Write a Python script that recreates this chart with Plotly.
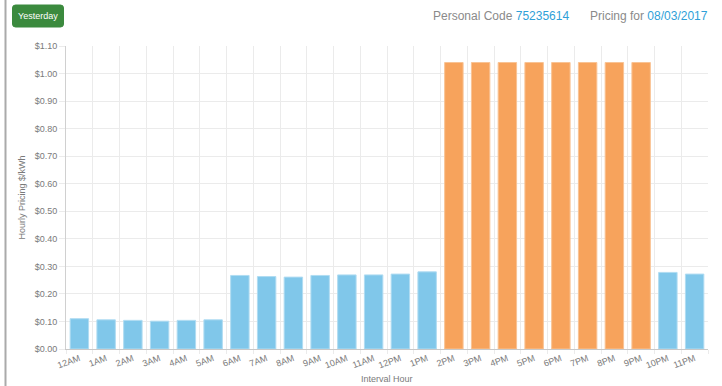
import plotly.graph_objects as go

hours = ["12AM", "1AM", "2AM", "3AM", "4AM", "5AM", "6AM", "7AM", "8AM", "9AM", "10AM", "11AM",
         "12PM", "1PM", "2PM", "3PM", "4PM", "5PM", "6PM", "7PM", "8PM", "9PM", "10PM", "11PM"]
prices = [0.110, 0.106, 0.104, 0.101, 0.104, 0.106, 0.267, 0.263, 0.261, 0.267, 0.269, 0.269,
          0.272, 0.280, 1.040, 1.040, 1.040, 1.040, 1.040, 1.040, 1.040, 1.040, 0.278, 0.272]
peak = [False] * 14 + [True] * 8 + [False] * 2
y_ticks = [0.0, 0.1, 0.2, 0.3, 0.4, 0.5, 0.6, 0.7, 0.8, 0.9, 1.0, 1.1]
y_tick_labels = ["$%.2f" % v for v in y_ticks]

personal_code = "75235614"
pricing_date = "08/03/2017"

BLUE = "#80c7ea"
BLUE_EDGE = "#b0dcf2"
ORANGE = "#f7a35c"
ORANGE_EDGE = "#f9c394"
GRID = "#ebebeb"
TXT = "#7a7a7a"

W, H = 722, 386
ML, MR, MT, MB = 66, 14, 46, 37
pw = W - ML - MR
ph = H - MT - MB


def px_x(px):
    return (px - ML) / pw


def px_y(py):
    return (H - MB - py) / ph


fig = go.Figure()
fig.add_trace(go.Bar(
    x=hours, y=prices,
    marker=dict(color=[ORANGE if p else BLUE for p in peak],
                line=dict(color=[ORANGE_EDGE if p else BLUE_EDGE for p in peak], width=1)),
    hoverinfo="x+y", showlegend=False,
))
# invisible trace to activate the overlay axis that draws grid lines between categories
fig.add_trace(go.Scatter(x=[-0.5, len(hours) - 0.5], y=[0, 0], xaxis="x2", mode="markers",
                         marker=dict(opacity=0), hoverinfo="skip", showlegend=False))

font_main = "Liberation Sans, Arial, sans-serif"

fig.update_layout(
    width=W, height=H,
    margin=dict(l=ML, r=MR, t=MT, b=MB),
    paper_bgcolor="white", plot_bgcolor="white",
    bargap=0.31,
    font=dict(family=font_main, size=9, color=TXT),
    xaxis=dict(
        type="category", range=[-0.5, len(hours) - 0.5], automargin=False,
        showgrid=False, tickangle=-20, ticks="", tickfont=dict(size=9, color=TXT),
        showline=True, linecolor="#c8c8c8", linewidth=1,
        fixedrange=True,
    ),
    xaxis2=dict(
        overlaying="x", side="bottom", range=[-0.5, len(hours) - 0.5], automargin=False,
        tickmode="linear", tick0=0.5, dtick=1,
        showgrid=True, gridcolor=GRID, gridwidth=1, zeroline=False,
        showticklabels=False, ticks="outside", ticklen=4, tickcolor=GRID,
        showline=False, fixedrange=True,
    ),
    yaxis=dict(
        range=[0, 1.1], tickmode="array", tickvals=y_ticks, ticktext=y_tick_labels,
        automargin=False,
        showgrid=True, gridcolor=GRID, gridwidth=1, zeroline=False,
        ticks="outside", ticklen=6, tickcolor=GRID,
        showline=True, linecolor="#d0d0d0", linewidth=1,
        tickfont=dict(size=9, color=TXT),
        fixedrange=True,
    ),
)

# axis titles
fig.add_annotation(xref="paper", yref="paper", x=0.5, y=px_y(379),
                   text="Interval Hour", showarrow=False, xanchor="center", yanchor="middle",
                   font=dict(size=9, color=TXT, family=font_main))
fig.add_annotation(xref="paper", yref="paper", x=px_x(21), y=0.5, textangle=-90,
                   text="Hourly Pricing $/kWh", showarrow=False, xanchor="center", yanchor="middle",
                   font=dict(size=9, color=TXT, family=font_main))

# left panel border
fig.add_shape(type="line", xref="paper", yref="paper",
              x0=px_x(5.5), x1=px_x(5.5), y0=px_y(0), y1=px_y(H),
              line=dict(color="#aaaaaa", width=2), layer="above")

# "Yesterday" button (rounded rect)
bx0, bx1, by0, by1, r = 12.5, 63.5, 5, 27, 3
path = (f"M {px_x(bx0 + r)},{px_y(by0)} L {px_x(bx1 - r)},{px_y(by0)} "
        f"Q {px_x(bx1)},{px_y(by0)} {px_x(bx1)},{px_y(by0 + r)} "
        f"L {px_x(bx1)},{px_y(by1 - r)} Q {px_x(bx1)},{px_y(by1)} {px_x(bx1 - r)},{px_y(by1)} "
        f"L {px_x(bx0 + r)},{px_y(by1)} Q {px_x(bx0)},{px_y(by1)} {px_x(bx0)},{px_y(by1 - r)} "
        f"L {px_x(bx0)},{px_y(by0 + r)} Q {px_x(bx0)},{px_y(by0)} {px_x(bx0 + r)},{px_y(by0)} Z")
fig.add_shape(type="path", xref="paper", yref="paper", path=path,
              fillcolor="#3b8a3e", line=dict(color="#3b8a3e", width=1), layer="above")
fig.add_annotation(xref="paper", yref="paper", x=px_x((bx0 + bx1) / 2), y=px_y((by0 + by1) / 2),
                   text="Yesterday", showarrow=False, xanchor="center", yanchor="middle",
                   font=dict(size=9, color="white", family=font_main))

# header texts
fig.add_annotation(xref="paper", yref="paper", x=px_x(571), y=px_y(15.5),
                   text=f"Personal Code <span style='color:#2f9fd8'>{personal_code}</span>",
                   showarrow=False, xanchor="right", yanchor="middle",
                   font=dict(size=12, color="#8a8a8a", family=font_main))
fig.add_annotation(xref="paper", yref="paper", x=px_x(710), y=px_y(15.5),
                   text=f"Pricing for <span style='color:#2f9fd8'>{pricing_date}</span>",
                   showarrow=False, xanchor="right", yanchor="middle",
                   font=dict(size=12, color="#8a8a8a", family=font_main))

fig.write_html("out.html", config={"displayModeBar": False})
